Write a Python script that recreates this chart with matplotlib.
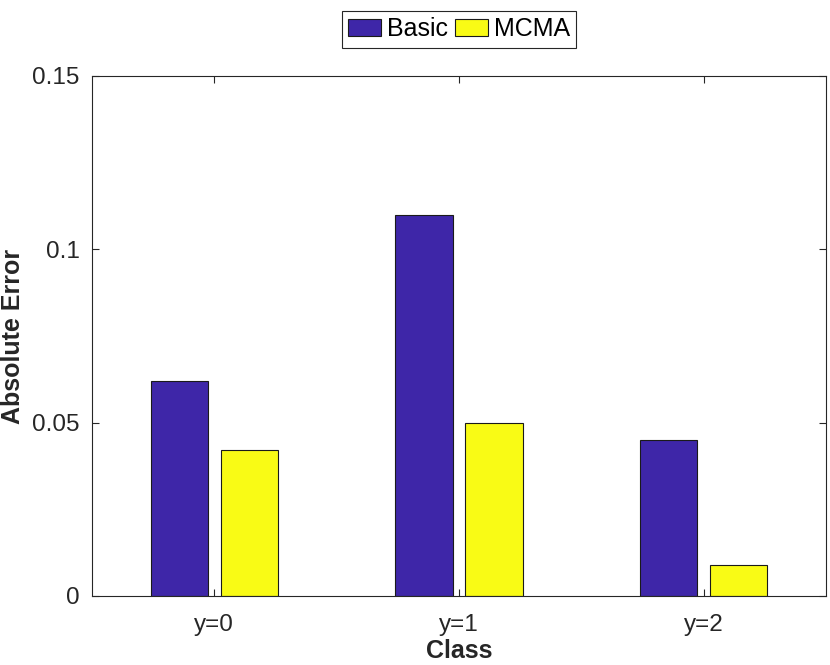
import matplotlib
matplotlib.use("Agg")
import matplotlib.pyplot as plt
import numpy as np

categories = ["y=0", "y=1", "y=2"]
basic = [0.062, 0.110, 0.045]
mcma = [0.042, 0.050, 0.009]
series_names = ["Basic", "MCMA"]
yticks = [0, 0.05, 0.1, 0.15]
ytick_labels = ["0", "0.05", "0.1", "0.15"]

plt.rcParams['font.family'] = ['Liberation Sans', 'DejaVu Sans']

fig = plt.figure(figsize=(8.3, 6.65), dpi=100)
ax = fig.add_axes([92/830, 1-596/665, (826-92)/830, (596-76)/665])

x = np.arange(1, len(categories) + 1)
w = 0.234
off = 0.143
ax.bar(x - off, basic, width=w, color="#3E26A8", edgecolor="#1a1a1a", linewidth=0.8, label=series_names[0])
ax.bar(x + off, mcma, width=w, color="#F9FB15", edgecolor="#1a1a1a", linewidth=0.8, label=series_names[1])

ax.set_xlim(0.5, 3.5)
ax.set_ylim(0, 0.15)
ax.set_xticks(x)
ax.set_xticklabels(categories)
ax.set_yticks(yticks)
ax.set_yticklabels(ytick_labels)
ax.tick_params(direction='in', length=5, width=0.8, colors='#262626', labelsize=17.5,
               top=True, right=True)
ax.tick_params(axis='y', pad=9)
ax.tick_params(axis='x', pad=13)
for tl in ax.get_xticklabels() + ax.get_yticklabels():
    tl.set_color('#262626')
for s in ax.spines.values():
    s.set_color('#262626')
    s.set_linewidth(0.8)

ax.set_xlabel("Class", fontsize=18, fontweight='bold', color='#262626', labelpad=2)
fig.text(13/830, 1 - 336/665, "Absolute Error", rotation=90, ha='center', va='center',
         fontsize=18, fontweight='bold', color='#262626')

leg = fig.legend(loc='upper center', bbox_to_anchor=(459/830, 1-11/665), ncol=2,
                 fontsize=18, frameon=True, fancybox=False, framealpha=1,
                 handlelength=1.32, handleheight=0.68, handletextpad=0.24,
                 columnspacing=0.28, borderpad=0.25, borderaxespad=0)
leg.get_frame().set_edgecolor('#262626')
leg.get_frame().set_linewidth(0.8)

fig.savefig("out.png", dpi=100)
